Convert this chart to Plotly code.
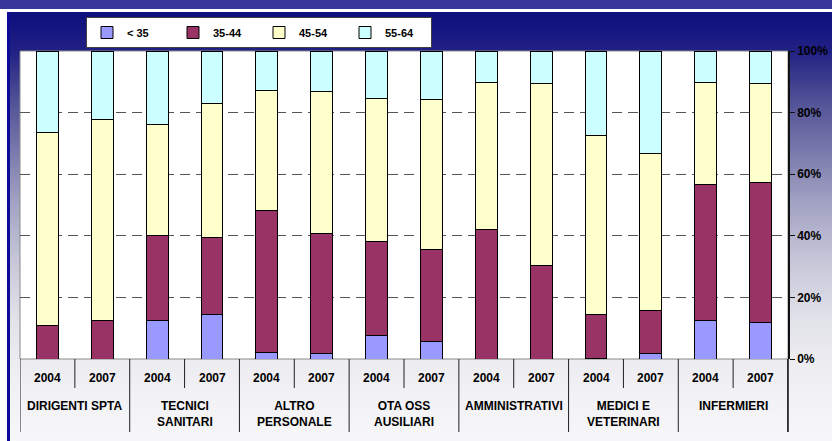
import plotly.graph_objects as go

# Staff age structure by professional group, 2004 vs 2007 (percent of staff)
groups = ["DIRIGENTI SPTA", "TECNICI<br>SANITARI", "ALTRO<br>PERSONALE", "OTA OSS<br>AUSILIARI",
          "AMMINISTRATIVI", "MEDICI E<br>VETERINARI", "INFERMIERI"]
years = ["2004", "2007"]

age_labels = ["< 35", "35-44", "45-54", "55-64"]
age_colors = ["#9999FF", "#993366", "#FFFFCC", "#CCFFFF"]

under_35 = [0.0, 0.0, 12.4, 14.6, 2.2, 1.9, 7.6, 5.7, 0.0, 0.0, 0.3, 1.9, 12.6, 12.0]
age_35_44 = [11.0, 12.6, 27.6, 24.7, 46.1, 39.0, 30.7, 29.9, 41.9, 30.5, 14.1, 13.7, 44.1, 45.4]
age_45_54 = [62.4, 65.0, 36.0, 43.5, 38.9, 46.1, 46.4, 48.5, 47.8, 58.9, 58.2, 51.0, 33.0, 32.0]
age_55_64 = [26.6, 22.4, 24.0, 17.2, 12.8, 13.0, 15.3, 15.9, 10.3, 10.6, 27.4, 33.4, 10.3, 10.6]

y_ticks = [0, 20, 40, 60, 80, 100]
y_tick_text = ["0%", "20%", "40%", "60%", "80%", "100%"]

series = [under_35, age_35_44, age_45_54, age_55_64]

W, H = 832, 441
L, R, T, B = 20, 44, 51, 82
PW, PH = W - L - R, H - T - B


def fx(px):
    return (px - L) / PW


def fy(py):
    return (H - B - py) / PH


FONT = "Liberation Sans, Arial"

n_bars = len(groups) * len(years)
positions = list(range(n_bars))

fig = go.Figure()
for name, color, vals in zip(age_labels, age_colors, series):
    fig.add_trace(go.Bar(
        x=positions,
        y=[v if v > 0 else None for v in vals],
        name="<b>%s</b>" % name,
        marker=dict(color=color, line=dict(color="black", width=1)),
        hovertemplate="%{y:.1f}%<extra>" + name + "</extra>",
    ))

shapes = []

# background: top band, white rule, then a vertical navy-to-white gradient panel
shapes.append(dict(type="rect", xref="paper", yref="paper", x0=fx(0), x1=fx(W), y0=fy(0), y1=fy(9),
                   fillcolor="#37379B", line=dict(width=0), layer="below"))
stops = [(12, (14, 14, 126)), (50, (32, 32, 132)), (100, (80, 80, 150)), (150, (120, 120, 172)),
         (200, (160, 160, 194)), (260, (198, 198, 216)), (320, (226, 226, 234)),
         (380, (240, 240, 244)), (441, (247, 247, 249))]


def grad(py):
    for (a, ca), (b, cb) in zip(stops[:-1], stops[1:]):
        if a <= py <= b:
            t = (py - a) / (b - a)
            return tuple(round(ca[k] + (cb[k] - ca[k]) * t) for k in range(3))
    return stops[-1][1]


step = 3
for py in range(12, H, step):
    c = grad(py + step / 2)
    shapes.append(dict(type="rect", xref="paper", yref="paper", x0=fx(7), x1=fx(W),
                       y0=fy(py + step + 0.5), y1=fy(py),
                       fillcolor="rgb(%d,%d,%d)" % c, line=dict(width=0), layer="below"))
shapes.append(dict(type="rect", xref="paper", yref="paper", x0=fx(7), x1=fx(10), y0=fy(H), y1=fy(12),
                   fillcolor="#0B0B95", line=dict(width=0), layer="below"))

# white plot area with a thin grey frame
shapes.append(dict(type="rect", xref="paper", yref="paper", x0=0, x1=1, y0=0, y1=1,
                   fillcolor="white", line=dict(color="#8A8A8A", width=1), layer="below"))

# category table under the bars
table_bottom = fy(432)
year_bottom = fy(388)
for i in range(len(groups) + 1):
    xb = 2 * i - 0.5
    shapes.append(dict(type="line", xref="x", yref="paper", x0=xb, x1=xb, y0=0, y1=table_bottom,
                       line=dict(color="#202020", width=1)))
for i in range(len(groups)):
    xm = 2 * i + 0.5
    shapes.append(dict(type="line", xref="x", yref="paper", x0=xm, x1=xm, y0=0, y1=year_bottom,
                       line=dict(color="#202020", width=1)))
shapes.append(dict(type="line", xref="paper", yref="paper", x0=1, x1=1, y0=0, y1=table_bottom,
                   line=dict(color="#111111", width=1.5)))

annotations = []
for gi, g in enumerate(groups):
    for yi, yr in enumerate(years):
        annotations.append(dict(x=2 * gi + yi, y=fy(378), xref="x", yref="paper", text="<b>%s</b>" % yr,
                                showarrow=False, yanchor="middle", xanchor="center",
                                font=dict(family=FONT, size=12, color="black")))
    annotations.append(dict(x=2 * gi + 0.5, y=fy(397), xref="x", yref="paper", text="<b>%s</b>" % g,
                            showarrow=False, yanchor="top", xanchor="center",
                            font=dict(family=FONT, size=12, color="black")))

fig.update_layout(
    width=W, height=H, autosize=False,
    margin=dict(l=L, r=R, t=T, b=B, pad=0, autoexpand=False),
    barmode="stack", bargap=0.6,
    paper_bgcolor="white", plot_bgcolor="rgba(0,0,0,0)",
    shapes=shapes, annotations=annotations,
    showlegend=True,
    legend=dict(orientation="h", x=fx(86), y=fy(17), xanchor="left", yanchor="top",
                bgcolor="white", bordercolor="#404040", borderwidth=1,
                traceorder="normal", entrywidth=41, entrywidthmode="pixels", itemwidth=30,
                font=dict(family=FONT, size=11, color="black")),
    xaxis=dict(range=[-0.5, n_bars - 0.5], showticklabels=False, showgrid=False, zeroline=False,
               showline=False, ticks="", fixedrange=True, automargin=False),
    yaxis=dict(range=[0, 100], side="right", tickvals=y_ticks,
               ticktext=["<b>%s</b>" % t for t in y_tick_text],
               showgrid=True, gridcolor="#555555", griddash="10px,6px", gridwidth=1,
               zeroline=False, showline=True, linecolor="#111111", linewidth=1.5,
               ticks="outside", ticklen=5, tickcolor="#111111",
               tickfont=dict(family=FONT, size=12, color="black"),
               fixedrange=True, automargin=False),
)

fig.write_html("out.html")
